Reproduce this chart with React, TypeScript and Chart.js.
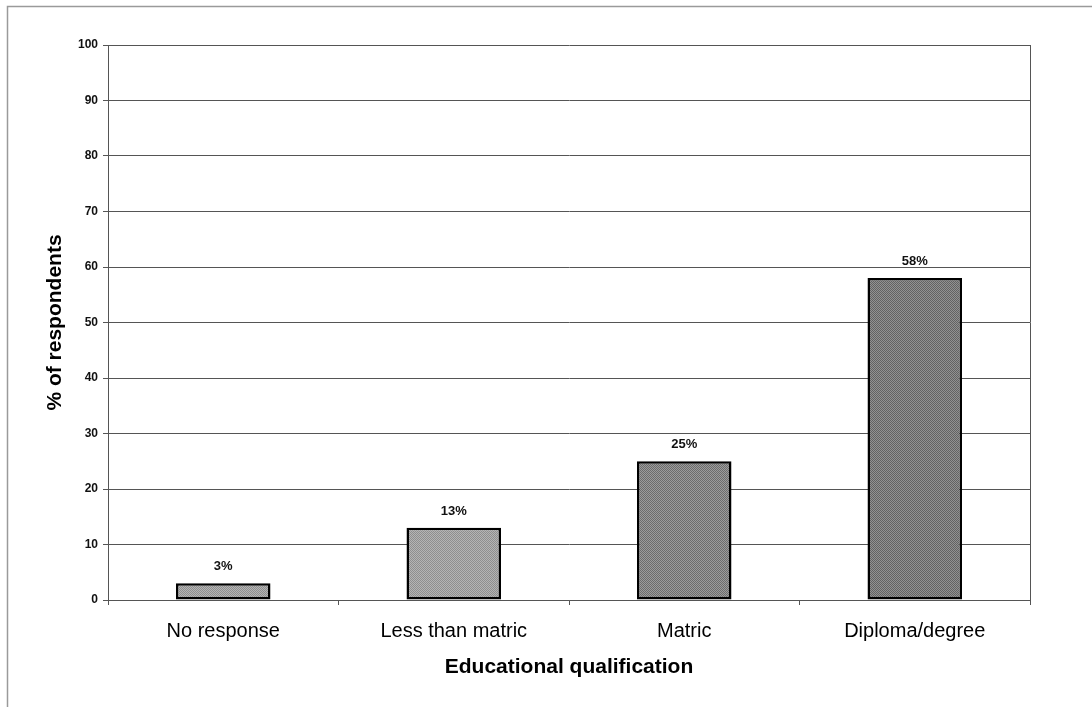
import React, { useEffect, useRef } from "react";
import { Chart, registerables } from "chart.js";

Chart.register(...registerables);

const categories: string[] = ["No response", "Less than matric", "Matric", "Diploma/degree"];
const percentValues: number[] = [3, 13, 25, 58];
const valueLabels: string[] = ["3%", "13%", "25%", "58%"];
const yTicks: number[] = [0, 10, 20, 30, 40, 50, 60, 70, 80, 90, 100];

const FONT = "Arial, 'Liberation Sans', Helvetica, sans-serif";

// fine two-tone dither so the bars read as a shaded fill
function ditherFill(light: string, dark: string): CanvasPattern | string {
  const c = document.createElement("canvas");
  c.width = 2;
  c.height = 2;
  const g = c.getContext("2d");
  if (!g) return dark;
  g.fillStyle = light;
  g.fillRect(0, 0, 2, 2);
  g.fillStyle = dark;
  g.fillRect(0, 0, 1, 1);
  g.fillRect(1, 1, 1, 1);
  const p = g.createPattern(c, "repeat");
  return p || dark;
}

const decorPlugin = {
  id: "decor",
  beforeDraw(chart: any) {
    const { ctx, width, height } = chart;
    ctx.save();
    ctx.fillStyle = "#ffffff";
    ctx.fillRect(0, 0, width, height);
    ctx.strokeStyle = "#9a9a9a";
    ctx.lineWidth = 1.5;
    ctx.beginPath();
    ctx.moveTo(7.5, height + 5);
    ctx.lineTo(7.5, 6.5);
    ctx.lineTo(width + 5, 6.5);
    ctx.stroke();
    ctx.restore();
  },
  afterDraw(chart: any) {
    const { ctx, chartArea } = chart;
    const { left, right, top, bottom } = chartArea;
    ctx.save();
    // right edge of the plot frame
    ctx.strokeStyle = "#555555";
    ctx.lineWidth = 1;
    ctx.beginPath();
    ctx.moveTo(Math.round(right) + 0.5, top);
    ctx.lineTo(Math.round(right) + 0.5, bottom);
    ctx.stroke();

    // value labels above bars
    const meta = chart.getDatasetMeta(0);
    ctx.fillStyle = "#111111";
    ctx.font = `bold 13px ${FONT}`;
    ctx.textAlign = "center";
    ctx.textBaseline = "alphabetic";
    meta.data.forEach((bar: any, i: number) => {
      ctx.fillText(valueLabels[i], bar.x, bar.y - 13);
    });

    // axis titles
    ctx.fillStyle = "#000000";
    ctx.font = `bold 21px ${FONT}`;
    ctx.textBaseline = "middle";
    ctx.fillText("Educational qualification", (left + right) / 2, 667);
    ctx.save();
    ctx.translate(55, (top + bottom) / 2);
    ctx.rotate(-Math.PI / 2);
    ctx.fillText("% of respondents", 0, 0);
    ctx.restore();
    ctx.restore();
  },
};

export default function App() {
  const canvasRef = useRef<HTMLCanvasElement | null>(null);

  useEffect(() => {
    const canvas = canvasRef.current;
    if (!canvas) return;
    const light = ditherFill("#b4b4b4", "#8e8e8e");
    const dark = ditherFill("#9c9c9c", "#6c6c6c");
    const fills = [light, light, dark, ditherFill("#929292", "#626262")];

    const chart = new Chart(canvas, {
      type: "bar",
      data: {
        labels: categories,
        datasets: [
          {
            data: percentValues,
            backgroundColor: fills as any,
            borderColor: "#000000",
            borderWidth: 2.5,
            borderSkipped: false,
            categoryPercentage: 1,
            barPercentage: 0.41,
          },
        ],
      },
      options: {
        responsive: false,
        animation: false,
        layout: { padding: { top: 45, right: 62, left: 0, bottom: 0 } },
        plugins: {
          legend: { display: false },
          tooltip: { enabled: false },
        },
        scales: {
          x: {
            type: "category",
            offset: true,
            grid: {
              offset: true,
              drawOnChartArea: false,
              drawTicks: true,
              tickLength: 5,
              color: "#555555",
            },
            border: { display: true, color: "#555555", width: 1 },
            ticks: {
              color: "#000000",
              font: { family: FONT, size: 20 },
              padding: 14,
              maxRotation: 0,
            },
            afterFit(scale: any) {
              scale.height = 107;
            },
          },
          y: {
            min: 0,
            max: 100,
            afterBuildTicks(scale: any) {
              scale.ticks = yTicks.map((v) => ({ value: v }));
            },
            grid: {
              color: "#555555",
              lineWidth: 1,
              drawTicks: true,
              tickLength: 5,
            },
            border: { display: true, color: "#555555", width: 1 },
            ticks: {
              color: "#111111",
              font: { family: FONT, size: 12, weight: "bold" },
              padding: 5,
            },
            afterFit(scale: any) {
              scale.width = 108;
            },
          },
        },
      },
      plugins: [decorPlugin],
    });

    return () => {
      chart.destroy();
    };
  }, []);

  return (
    <div style={{ position: "fixed", left: 0, top: 0, width: 1092, height: 707, background: "#fff" }}>
      <canvas ref={canvasRef} width={1092} height={707} style={{ display: "block" }} />
    </div>
  );
}
